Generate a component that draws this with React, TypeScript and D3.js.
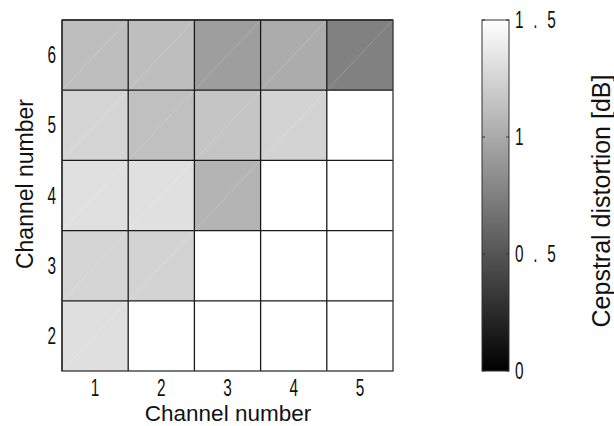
import React from "react";
import * as d3 from "d3";

// channel pairs: column = first channel, row = second channel
const xChannels = [1, 2, 3, 4, 5];
const yChannels = [2, 3, 4, 5, 6];

// cepstral distortion [dB] per row (null = no pair)
const row2 = [1.31, null, null, null, null];
const row3 = [1.25, 1.24, null, null, null];
const row4 = [1.32, 1.32, 1.06, null, null];
const row5 = [1.25, 1.13, 1.16, 1.24, null];
const row6 = [1.12, 1.12, 0.93, 1.01, 0.76];
const rows = [row2, row3, row4, row5, row6];

const cbTicks = [0, 0.5, 1, 1.5];
const cbTickLabels = ["0", "0 . 5", "1", "1 . 5"];

const W = 614;
const H = 426;
const plot = { left: 62, right: 393, top: 20, bottom: 371 };
const cb = { left: 482, right: 509 };
const sans = "'Liberation Sans', Arial, sans-serif";

// tall narrow digits like the original
const Narrow = ({ x, y, anchor, children, spacing }: any) => (
  <text
    transform={`translate(${x},${y}) scale(0.64,1)`}
    textAnchor={anchor || "start"}
    fontFamily={sans}
    fontSize={24}
    fill="#111"
    letterSpacing={spacing || 0}
    style={{ whiteSpace: "pre" }}
  >
    {children}
  </text>
);

const App = () => {
  const x = d3.scaleBand<number>().domain(xChannels).range([plot.left, plot.right]);
  const y = d3.scaleBand<number>().domain(yChannels).range([plot.bottom, plot.top]);
  const color = d3.scaleLinear<string>().domain([0, 1.5]).range(["#000000", "#ffffff"]).clamp(true);
  const cbY = d3.scaleLinear().domain([0, 1.5]).range([plot.bottom, plot.top]);

  const cells: { c: number; r: number; v: number | null }[] = [];
  rows.forEach((vals, ri) => {
    vals.forEach((v, ci) => cells.push({ c: xChannels[ci], r: yChannels[ri], v }));
  });

  return (
    <svg width={W} height={H} style={{ position: "absolute", left: 0, top: 0, background: "#fff" }}>
      <defs>
        <linearGradient id="cbGrad" x1="0" y1="1" x2="0" y2="0">
          <stop offset="0%" stopColor="#000" />
          <stop offset="100%" stopColor="#fff" />
        </linearGradient>
      </defs>

      {cells.map((d, i) => {
        const x0 = x(d.c)!;
        const y0 = y(d.r)!;
        const bw = x.bandwidth();
        const bh = y.bandwidth();
        return (
          <g key={i}>
            <rect x={x0} y={y0} width={bw} height={bh} fill={d.v == null ? "#fff" : color(d.v)} />
            {d.v != null && (
              <line x1={x0} y1={y0 + bh} x2={x0 + bw} y2={y0} stroke="#fff" strokeOpacity={0.3} strokeWidth={0.6} />
            )}
          </g>
        );
      })}

      {/* grid */}
      {xChannels.map((c) => (
        <line key={"vx" + c} x1={x(c)!} x2={x(c)!} y1={plot.top} y2={plot.bottom} stroke="#1a1a1a" strokeWidth={1.3} />
      ))}
      {yChannels.map((r) => (
        <line key={"hy" + r} x1={plot.left} x2={plot.right} y1={y(r)!} y2={y(r)!} stroke="#1a1a1a" strokeWidth={1.3} />
      ))}
      <rect x={plot.left} y={plot.top} width={plot.right - plot.left} height={plot.bottom - plot.top} fill="none" stroke="#333" strokeWidth={1.3} />

      {/* tick labels */}
      {xChannels.map((c) => (
        <Narrow key={"xt" + c} x={x(c)! + x.bandwidth() / 2} y={396} anchor="middle">
          {c}
        </Narrow>
      ))}
      {yChannels.map((r) => (
        <Narrow key={"yt" + r} x={56} y={y(r)! + y.bandwidth() / 2 + 8} anchor="end">
          {r}
        </Narrow>
      ))}

      <text x={228} y={421} textAnchor="middle" fontFamily={sans} fontSize={22.5} fill="#111">
        Channel number
      </text>
      <text transform={`translate(33,184) rotate(-90)`} textAnchor="middle" fontFamily={sans} fontSize={23} fill="#111">
        Channel number
      </text>

      {/* colorbar */}
      <rect x={cb.left} y={plot.top} width={cb.right - cb.left} height={plot.bottom - plot.top} fill="url(#cbGrad)" stroke="#333" strokeWidth={1} />
      {cbTicks.map((t, i) => (
        <g key={"cb" + t}>
          <line x1={cb.left} x2={cb.left + 3} y1={cbY(t)} y2={cbY(t)} stroke="#333" />
          <line x1={cb.right - 3} x2={cb.right} y1={cbY(t)} y2={cbY(t)} stroke="#333" />
          <Narrow x={515} y={cbY(t) + 8} spacing={4.3}>
            {cbTickLabels[i]}
          </Narrow>
        </g>
      ))}
      <text transform={`translate(610,201) rotate(-90)`} textAnchor="middle" fontFamily={sans} fontSize={25} fill="#111">
        Cepstral distortion [dB]
      </text>
    </svg>
  );
};

export default App;
